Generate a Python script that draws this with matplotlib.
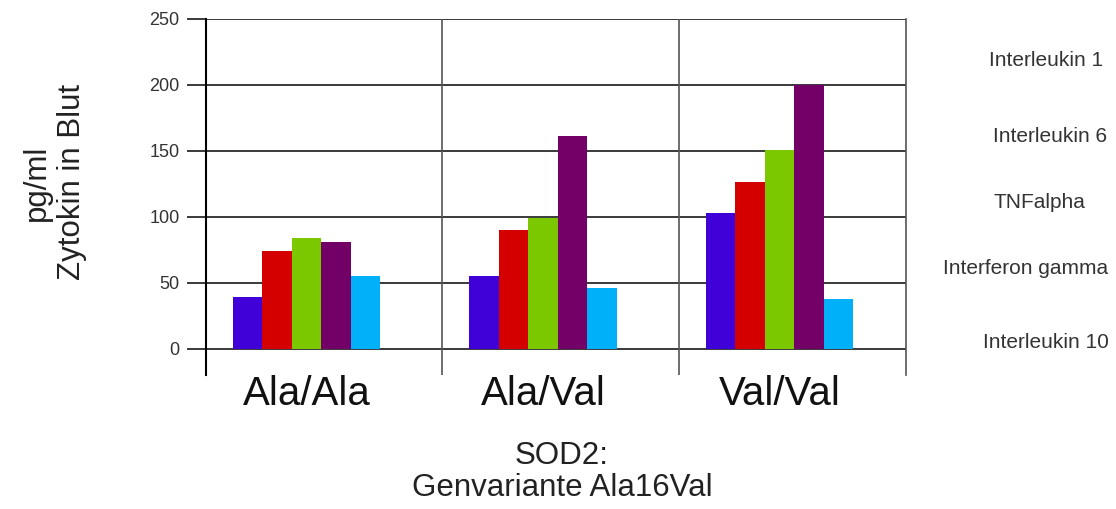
import numpy as np
import matplotlib.pyplot as plt

# Daten
genotypen = ["Ala/Ala", "Ala/Val", "Val/Val"]
zytokine = ["Interleukin 1", "Interleukin 6", "TNFalpha", "Interferon gamma", "Interleukin 10"]
interleukin_1 = [39, 55, 103]
interleukin_6 = [74, 90, 126]
tnf_alpha = [84, 99, 151]
interferon_gamma = [81, 161, 200]
interleukin_10 = [55, 46, 38]
farben = ["#4000d8", "#d40000", "#7cc800", "#720066", "#00b0f8"]

werte = [interleukin_1, interleukin_6, tnf_alpha, interferon_gamma, interleukin_10]

plt.rcParams['font.family'] = ['Liberation Sans', 'DejaVu Sans']

fig = plt.figure(figsize=(11.16, 5.09), dpi=100)
ax = fig.add_axes([206 / 1116, 1 - 375 / 509, 700 / 1116, 356 / 509])

x = np.arange(len(genotypen)) + 0.425
breite = 0.125
for j, (serie, farbe) in enumerate(zip(werte, farben)):
    ax.bar(x + (j - 2) * breite, serie, width=breite, color=farbe, zorder=3)

ax.set_xlim(0, 2.96)
ax.set_ylim(-20, 250)
ax.set_yticks(np.arange(0, 251, 50))
for y in np.arange(0, 251, 50):
    ax.axhline(y, color="#3a3a3a", lw=1.4, zorder=1)
for xv in [1, 2]:
    ax.axvline(xv, color="#555555", lw=1.2, zorder=1)

ax.spines['bottom'].set_visible(False)
ax.spines['top'].set_visible(False)
ax.spines['left'].set_linewidth(1.5)
ax.spines['right'].set_color("#555555")
ax.spines['right'].set_linewidth(1.2)

ax.tick_params(axis='y', length=14, width=1.4, color="#3a3a3a", labelsize=13,
               labelcolor="#333333", pad=5)
ax.set_xticks(x)
ax.set_xticklabels(genotypen, fontsize=29, color="#111111")
ax.tick_params(axis='x', length=0, pad=0)

# Achsenbeschriftung
fig.text(37 / 1116, 1 - 183 / 509, "pg/ml", rotation=90, fontsize=22.5,
         ha='center', va='center', color="#222222")
fig.text(72 / 1116, 1 - 182 / 509, "Zytokin in Blut", rotation=90, fontsize=22.5,
         ha='center', va='center', color="#222222")
fig.text(562 / 1116, 1 - 456 / 509, "SOD2:", fontsize=22.5,
         ha='center', va='center', color="#222222")
fig.text(562 / 1116, 1 - 488 / 509, "Genvariante Ala16Val", fontsize=22.5,
         ha='center', va='center', color="#222222")

# Legende nur als Text
leg_x = [1046, 1050, 1039, 1026, 1046]
leg_y = [60, 136, 202, 268, 342]
for name, lx, ly in zip(zytokine, leg_x, leg_y):
    fig.text(lx / 1116, 1 - ly / 509, name, fontsize=15,
             ha='center', va='center', color="#333333")

plt.savefig("out.png", dpi=100)
plt.close()
